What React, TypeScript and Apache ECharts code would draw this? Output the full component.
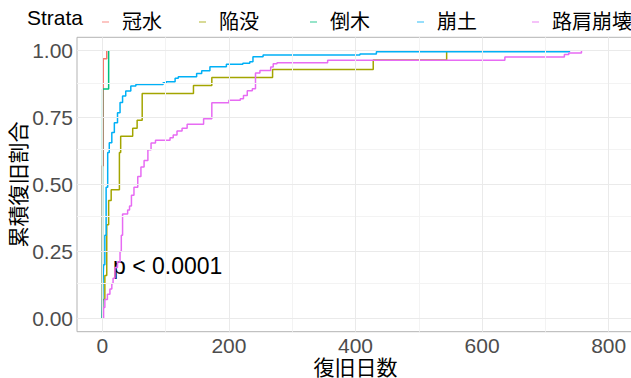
import React, { useEffect, useRef } from "react";
import * as echarts from "echarts";

// Strata (categories) and colours
const strata = ["冠水", "陥没", "倒木", "崩土", "路肩崩壊"];
const strataColors = ["#F8766D", "#A3A500", "#00BF7D", "#00B0F6", "#E76BF3"];

// Cumulative recovery curves (days, proportion recovered)
const kansuiDays = [0, 0, 1.5, 7];
const kansuiRate = [0, 0.57, 0.97, 1.0];

const kanbotsuDays = [0, 1, 4, 7, 10, 14, 27, 29, 48, 55, 63, 144, 173, 269, 428, 544];
const kanbotsuRate = [0, 0.07, 0.16, 0.35, 0.44, 0.48, 0.62, 0.68, 0.71, 0.74, 0.84, 0.87, 0.9, 0.93, 0.965, 1.0];

const tobokuDays = [0, 0.5, 10];
const tobokuRate = [0, 0.857, 1.0];

const hodoDays = [0, 1, 2, 4, 6, 8.5, 11, 15, 19, 24, 28, 32, 37, 45, 53, 96, 101, 115, 120, 149, 157, 170, 196, 222, 233, 238, 254, 407, 433, 738];
const hodoRate = [0, 0.12, 0.2, 0.31, 0.49, 0.62, 0.656, 0.694, 0.731, 0.768, 0.806, 0.831, 0.849, 0.868, 0.874, 0.88, 0.884, 0.897, 0.903, 0.915, 0.925, 0.94, 0.949, 0.953, 0.959, 0.977, 0.984, 0.988, 0.996, 1.0];

const rokataDays = [0, 2, 4, 8, 12, 15, 17, 20, 24, 28, 30, 32, 40, 43, 46, 50, 56, 61, 66, 72, 77, 84, 107, 112, 118, 126, 134, 160, 173, 200, 218, 223, 229, 237, 242, 249, 266, 270, 276, 356, 636, 730, 737, 757];
const rokataRate = [0, 0.04, 0.07, 0.09, 0.11, 0.13, 0.15, 0.19, 0.21, 0.25, 0.31, 0.39, 0.405, 0.42, 0.46, 0.49, 0.53, 0.565, 0.59, 0.63, 0.655, 0.665, 0.675, 0.685, 0.7, 0.71, 0.725, 0.746, 0.805, 0.815, 0.82, 0.833, 0.85, 0.858, 0.917, 0.926, 0.939, 0.951, 0.955, 0.964, 0.976, 0.986, 0.991, 1.0];

const curveDays = [kansuiDays, kanbotsuDays, tobokuDays, hodoDays, rokataDays];
const curveRates = [kansuiRate, kanbotsuRate, tobokuRate, hodoRate, rokataRate];

// Axis ticks and grid lines
const xTicks = [0, 200, 400, 600, 800];
const xMinorGrid = [100, 300, 500, 700];
const yTicks = [0, 0.25, 0.5, 0.75, 1.0];
const yMinorGrid = [0.125, 0.375, 0.625, 0.875];

const xTitle = "復旧日数";
const yTitle = "累積復旧割合";
const legendTitle = "Strata";
const pValueText = "p < 0.0001";

// legend key left positions
const legendLefts = [97, 194, 305, 412, 527];

const FONT = "'Liberation Sans', Arial, 'Noto Sans CJK JP', sans-serif";

export default function App() {
  const ref = useRef<HTMLDivElement>(null);

  useEffect(() => {
    if (!ref.current) return;
    const chart = echarts.init(ref.current, undefined, { renderer: "svg" });

    const series: any[] = strata.map((name, i) => ({
      name,
      type: "line",
      step: "end",
      symbol: "none",
      z: 3,
      lineStyle: { color: strataColors[i], width: 1.5 },
      itemStyle: { color: strataColors[i] },
      data: curveDays[i].map((d, j) => [d, curveRates[i][j]]),
    }));

    series.unshift({
      name: "grid",
      type: "line",
      data: [],
      z: 1,
      silent: true,
      markLine: {
        silent: true,
        symbol: "none",
        label: { show: false },
        animation: false,
        data: [
          ...xMinorGrid.map((v) => ({ xAxis: v, lineStyle: { color: "#F3F3F3", width: 1, type: "solid" } })),
          ...yMinorGrid.map((v) => ({ yAxis: v, lineStyle: { color: "#F3F3F3", width: 1, type: "solid" } })),
          ...xTicks.map((v) => ({ xAxis: v, lineStyle: { color: "#EAEAEA", width: 1, type: "solid" } })),
          ...yTicks.map((v) => ({ yAxis: v, lineStyle: { color: "#EAEAEA", width: 1, type: "solid" } })),
        ],
      },
    });

    const legends = strata.map((name, i) => ({
      data: [name],
      left: legendLefts[i],
      top: 7,
      icon: "rect",
      itemWidth: 7,
      itemHeight: 1.5,
      itemStyle: { opacity: 0.55 },
      selectedMode: false,
      textStyle: {
        fontFamily: FONT,
        fontSize: 20,
        color: "#000",
        padding: [0, 0, 0, 8],
      },
    }));

    chart.setOption({
      animation: false,
      backgroundColor: "#fff",
      title: {
        text: legendTitle,
        left: 27,
        top: 7,
        padding: 0,
        textStyle: { fontFamily: FONT, fontSize: 21, fontWeight: "normal", color: "#000" },
      },
      legend: legends,
      grid: {
        left: 77,
        top: 37.3,
        width: 557,
        height: 294.4,
        show: true,
        backgroundColor: "#fff",
        borderColor: "#B3B3B3",
        borderWidth: 1,
        containLabel: false,
        outerBoundsMode: "none",
      },
      xAxis: {
        type: "value",
        min: -40,
        max: 840,
        name: xTitle,
        nameLocation: "middle",
        nameGap: 25,
        nameMoveOverlap: false,
        nameTextStyle: { fontFamily: FONT, fontSize: 21, color: "#000" },
        axisLine: { show: false },
        splitLine: { show: false },
        axisTick: { show: true, length: 3, customValues: xTicks, lineStyle: { color: "#B3B3B3" } },
        axisLabel: { customValues: xTicks, fontFamily: FONT, fontSize: 21, color: "#4D4D4D", margin: 3 },
      },
      yAxis: {
        type: "value",
        min: -0.05,
        max: 1.05,
        name: yTitle,
        nameLocation: "middle",
        nameGap: 48,
        nameMoveOverlap: false,
        nameTextStyle: { fontFamily: FONT, fontSize: 21, color: "#000" },
        axisLine: { show: false },
        splitLine: { show: false },
        axisTick: { show: true, length: 3, customValues: yTicks, lineStyle: { color: "#B3B3B3" } },
        axisLabel: {
          customValues: yTicks,
          fontFamily: FONT,
          fontSize: 21,
          color: "#4D4D4D",
          margin: 4,
          formatter: (v: number) => v.toFixed(2),
        },
      },
      graphic: [
        {
          type: "text",
          left: 113,
          top: 254,
          style: { text: pValueText, fontFamily: FONT, fontSize: 23, fill: "#000" },
        },
      ],
      series,
    });

    return () => chart.dispose();
  }, []);

  return (
    <div
      ref={ref}
      style={{ position: "fixed", left: 0, top: 0, width: 631, height: 378 }}
    />
  );
}
